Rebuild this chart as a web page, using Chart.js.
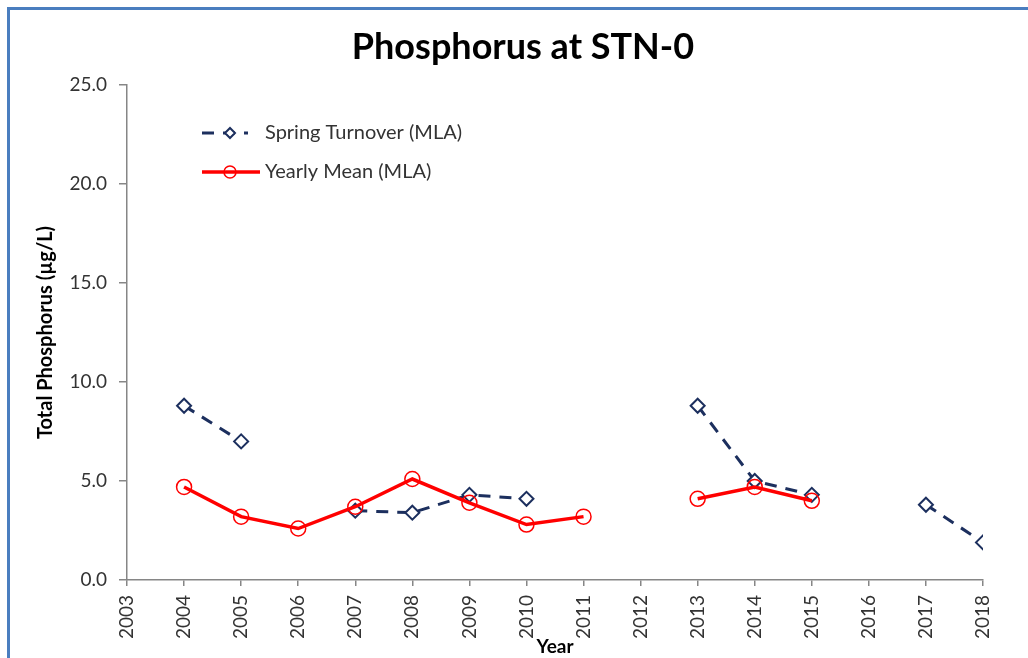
<!DOCTYPE html>
<html>
<head>
<meta charset="utf-8">
<script src="https://cdn.jsdelivr.net/npm/chart.js@4/dist/chart.umd.min.js"></script>
<style>
  html, body { margin: 0; padding: 0; background: #fff; overflow: hidden; }
  #frame { position: absolute; left: 7px; top: 7px; width: 1100px; height: 700px; border: 3px solid #4a7ebf; }
  #wrap { position: absolute; left: 0; top: 0; width: 1028px; height: 658px; }
</style>
</head>
<body>
<div id="frame"></div>
<div id="wrap"><canvas id="chart"></canvas></div>
<script>
// --- data ---
const years = [2004, 2005, 2006, 2007, 2008, 2009, 2010, 2011, 2012, 2013, 2014, 2015, 2016, 2017, 2018];
const springTurnover = [8.8, 7.0, null, 3.5, 3.4, 4.3, 4.1, null, null, 8.8, 5.0, 4.3, null, 3.8, 1.9];
const yearlyMean = [4.7, 3.2, 2.6, 3.7, 5.1, 3.9, 2.8, 3.2, null, 4.1, 4.7, 4.0, null, null, null];
const seriesLabels = ['Spring Turnover (MLA)', 'Yearly Mean (MLA)'];
const chartTitle = 'Phosphorus at STN-0';

const NAVY = '#1c2f5e';
const RED = '#ff0000';
const AXIS = '#868686';
const FONT = 'Lato, "Open Sans", sans-serif';

const toPoints = vals => years.map((x, i) => ({ x, y: vals[i] }));

// title drawn by hand so it can sit a bit right of the canvas centre
const titleText = {
  id: 'titleText',
  afterDraw(chart) {
    const { ctx } = chart;
    ctx.save();
    ctx.fillStyle = '#000';
    ctx.font = 'bold 36px ' + FONT;
    ctx.textAlign = 'center';
    ctx.textBaseline = 'alphabetic';
    ctx.fillText(chartTitle, 523, 59);
    ctx.restore();
  }
};

// legend drawn inside the plot, like the original
const insideLegend = {
  id: 'insideLegend',
  afterDraw(chart) {
    const { ctx, chartArea } = chart;
    const x0 = chartArea.left + 75;
    const rows = [
      { ds: chart.data.datasets[0], y: chartArea.top + 48, end: 46, r: 5 },
      { ds: chart.data.datasets[1], y: chartArea.top + 87, end: 58, r: 6 }
    ];
    ctx.save();
    rows.forEach(r => {
      ctx.strokeStyle = r.ds.borderColor;
      ctx.lineWidth = r.ds.borderWidth;
      ctx.setLineDash(r.ds.borderDash || []);
      ctx.beginPath();
      ctx.moveTo(x0, r.y);
      ctx.lineTo(x0 + r.end, r.y);
      ctx.stroke();
      ctx.setLineDash([]);
      ctx.fillStyle = r.ds.pointBackgroundColor;
      ctx.lineWidth = r.ds.pointBorderWidth;
      ctx.strokeStyle = r.ds.pointBorderColor;
      Chart.helpers.drawPoint(ctx, { pointStyle: r.ds.pointStyle, radius: r.r, borderWidth: r.ds.pointBorderWidth }, x0 + 28, r.y);
      ctx.fillStyle = '#333';
      ctx.font = '20px ' + FONT;
      ctx.textBaseline = 'middle';
      ctx.fillText(r.ds.label, x0 + 63, r.y);
    });
    ctx.restore();
  }
};

new Chart(document.getElementById('chart'), {
  type: 'line',
  data: {
    datasets: [
      {
        label: seriesLabels[0], data: toPoints(springTurnover), order: 1,
        borderColor: NAVY, borderWidth: 3, borderDash: [12, 9],
        pointStyle: 'rectRot', pointRadius: 7, pointBorderWidth: 2,
        pointBorderColor: NAVY, pointBackgroundColor: '#fff', tension: 0, spanGaps: false
      },
      {
        label: seriesLabels[1], data: toPoints(yearlyMean), order: 0,
        borderColor: RED, borderWidth: 3.5,
        pointStyle: 'circle', pointRadius: 7.5, pointBorderWidth: 1.5,
        pointBorderColor: RED, pointBackgroundColor: 'rgba(255,255,255,0)', tension: 0, spanGaps: false
      }
    ]
  },
  options: {
    responsive: true,
    maintainAspectRatio: false,
    animation: false,
    layout: { padding: { left: 20, right: 45, top: 85, bottom: 0 } },
    plugins: {
      legend: { display: false },
      tooltip: { enabled: false },
      title: { display: false }
    },
    scales: {
      x: {
        type: 'linear', min: 2003, max: 2018,
        afterFit: s => { s.height = 78; },
        ticks: {
          stepSize: 1, color: '#333', maxRotation: 90, minRotation: 90, padding: 9,
          font: { family: FONT, size: 19 },
          callback: v => String(v)
        },
        grid: { drawOnChartArea: false, drawTicks: true, tickLength: 6, color: AXIS, lineWidth: 1.5 },
        border: { color: AXIS, width: 1.5 },
        title: { display: true, text: 'Year', color: '#000', font: { family: FONT, size: 19, weight: 'bold' }, padding: 0 }
      },
      y: {
        min: 0, max: 25,
        afterFit: s => { s.width = 107; },
        ticks: {
          stepSize: 5, color: '#333', padding: 12,
          font: { family: FONT, size: 19 },
          callback: v => v.toFixed(1)
        },
        grid: { drawOnChartArea: false, drawTicks: true, tickLength: 8, color: AXIS, lineWidth: 1.5 },
        border: { color: AXIS, width: 1.5 },
        title: { display: true, text: 'Total Phosphorus (µg/L)', color: '#000', font: { family: FONT, size: 20, weight: 'bold' }, padding: { top: 14 } }
      }
    }
  },
  plugins: [titleText, insideLegend]
});
</script>
</body>
</html>
